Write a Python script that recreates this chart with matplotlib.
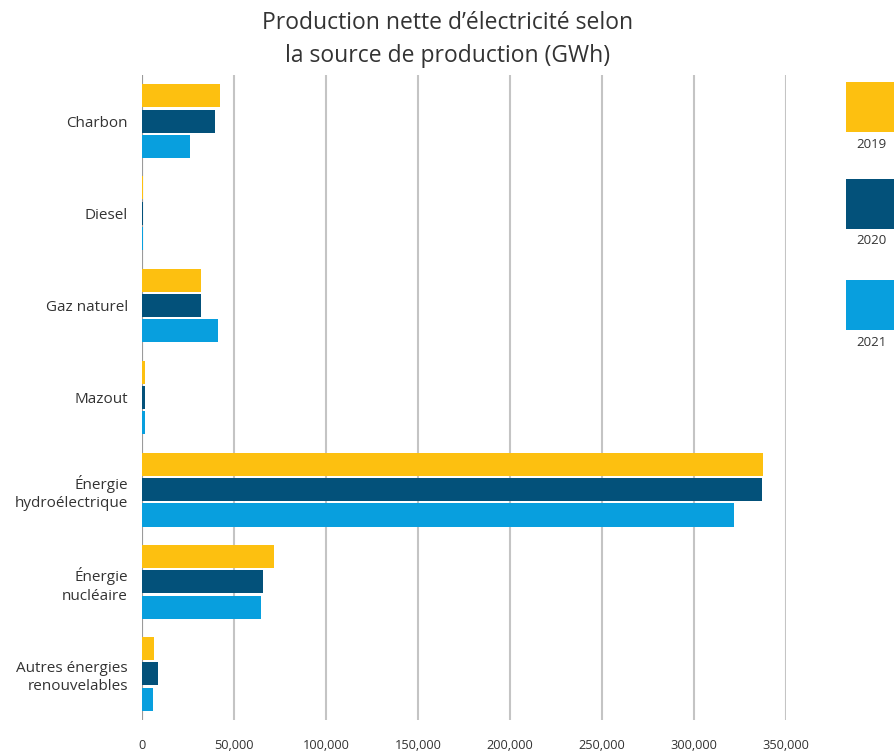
import matplotlib
matplotlib.use("Agg")
import matplotlib.pyplot as plt
from matplotlib.patches import Rectangle
from matplotlib.ticker import FuncFormatter
import numpy as np

plt.rcParams['font.family'] = ['Open Sans', 'DejaVu Sans']

categories = [
    "Charbon",
    "Diesel",
    "Gaz naturel",
    "Mazout",
    "Énergie\nhydroélectrique",
    "Énergie\nnucléaire",
    "Autres énergies\nrenouvelables",
]
years = ["2019", "2020", "2021"]
values_2019 = [42500, 700, 32200, 1800, 337500, 71900, 6700]
values_2020 = [39800, 600, 32200, 1800, 336900, 65900, 8900]
values_2021 = [26200, 500, 41500, 1800, 321700, 64800, 6100]
colors = ["#FDC010", "#03517A", "#089FDE"]
x_ticks = [0, 50000, 100000, 150000, 200000, 250000, 300000, 350000]

series = [values_2019, values_2020, values_2021]
text_color = "#333333"

fig = plt.figure(figsize=(8.95, 7.54), dpi=100)
ax = fig.add_axes([0.1583, 0.0451, 0.7199, 0.8554])

ypos = np.arange(len(categories))
bar_h = 0.25
step = 0.275
for k, (vals, col) in enumerate(zip(series, colors)):
    ax.barh(ypos + (k - 1) * step, vals, height=bar_h, color=col,
            edgecolor="none", zorder=3)

ax.set_ylim(len(categories) - 0.5, -0.5)
ax.set_xlim(0, 350000)
ax.set_yticks(ypos)
ax.set_yticklabels(categories, fontsize=11, color=text_color,
                   multialignment="right", linespacing=1.3)
ax.set_xticks(x_ticks)
ax.xaxis.set_major_formatter(FuncFormatter(lambda v, p: f"{int(v):,}"))
ax.tick_params(axis="x", length=0, pad=14, labelsize=9.2, labelcolor=text_color)
ax.tick_params(axis="y", length=0, pad=10)

for s in ax.spines.values():
    s.set_visible(False)
ax.grid(axis="x", color="#c4c4c4", linewidth=1.5, zorder=0)
ax.grid(axis="y", visible=False)
ax.axvline(0, color="#9a9a9a", linewidth=1.5, zorder=2)
ax.set_axisbelow(True)

fig.text(0.5, 1 - 23 / 754, "Production nette d’électricité selon",
         ha="center", va="center", fontsize=16.5, color=text_color)
fig.text(0.5, 1 - 56 / 754, "la source de production (GWh)",
         ha="center", va="center", fontsize=16.5, color=text_color)

# Legend: coloured squares with the year underneath
W, H = 895, 754
leg_tops = [82, 179, 280]
for yr, col, top in zip(years, colors, leg_tops):
    fig.add_artist(Rectangle((846 / W, 1 - (top + 50) / H), 49 / W, 50 / H,
                             transform=fig.transFigure, color=col, lw=0))
    fig.text(871 / W, 1 - (top + 62) / H, yr, ha="center", va="center",
             fontsize=9.5, color=text_color)

fig.savefig("out.png", dpi=100)
